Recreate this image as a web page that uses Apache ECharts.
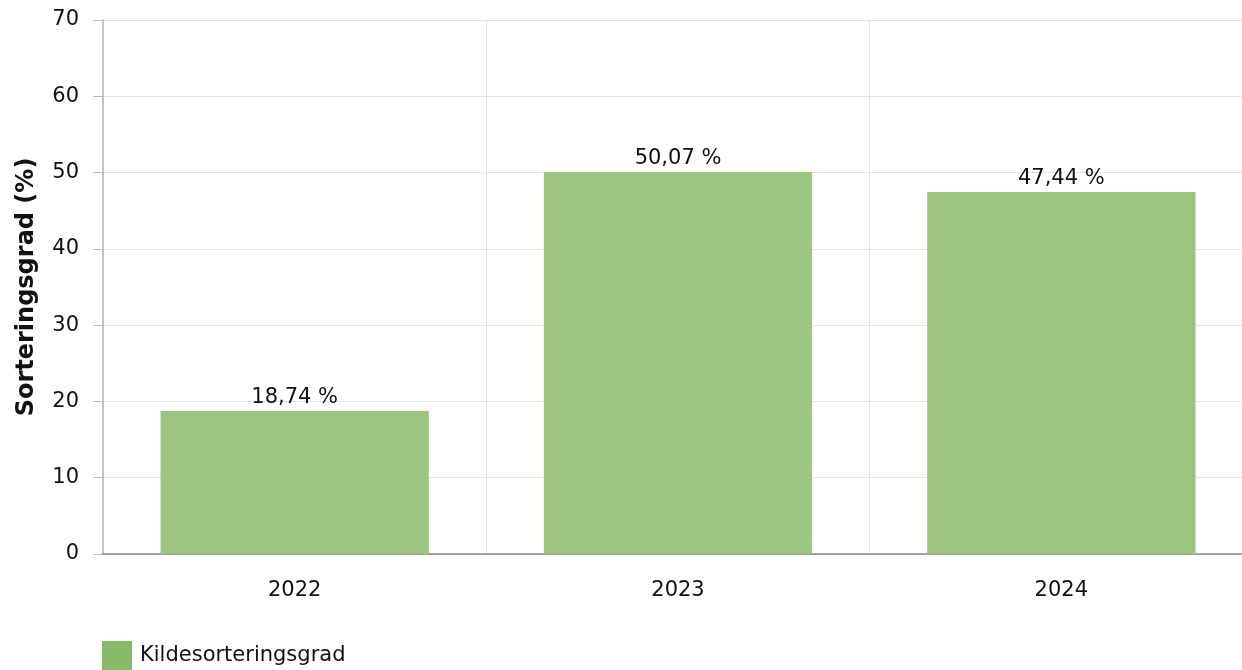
<!DOCTYPE html>
<html><head><meta charset="utf-8">
<script src="https://cdn.jsdelivr.net/npm/echarts@6/dist/echarts.min.js"></script>
<style>html,body{margin:0;padding:0;background:#fff}#c{width:1242px;height:670px}</style>
</head><body><div id="c"></div>
<script>
const categories = ['2022', '2023', '2024'];
const values = [18.74, 50.07, 47.44];
const seriesName = 'Kildesorteringsgrad';
const yAxisName = 'Sorteringsgrad (%)';

const chart = echarts.init(document.getElementById('c'));
const font = 'DejaVu Sans, Verdana, sans-serif';
chart.setOption({
  animation: false,
  textStyle: { fontFamily: font },
  grid: { left: 103, width: 1150, top: 20, height: 534, containLabel: false, outerBoundsMode: 'none' },
  legend: {
    left: 97, top: 636, itemWidth: 30, itemHeight: 30, itemGap: 10,
    icon: 'rect',
    textStyle: { fontSize: 21, color: '#111', fontFamily: font, padding: [8, 0, 0, 3] },
    data: [{ name: seriesName, itemStyle: { color: '#88b968' } }]
  },
  xAxis: {
    type: 'category', data: categories,
    axisLine: { lineStyle: { color: '#888', width: 1.5 } },
    axisTick: { alignWithLabel: true, length: 10, lineStyle: { color: '#999' } },
    axisLabel: { fontSize: 21, color: '#111', margin: 26, fontFamily: font },
    splitLine: { show: true, lineStyle: { color: '#e2e2e2', width: 1 } }
  },
  yAxis: {
    type: 'value', min: 0, max: 70, interval: 10,
    name: yAxisName, nameLocation: 'middle', nameGap: 64,
    nameTextStyle: { fontSize: 24, fontWeight: 'bold', color: '#111', fontFamily: font },
    axisLine: { show: true, lineStyle: { color: '#c4c4c4', width: 2 } },
    axisTick: { show: true, length: 10, lineStyle: { color: '#bbb' } },
    axisLabel: { fontSize: 21, color: '#111', margin: 24, fontFamily: font },
    splitLine: { lineStyle: { color: '#e2e2e2', width: 1 } }
  },
  series: [{
    name: seriesName, type: 'bar', data: values, barWidth: '70%',
    itemStyle: { color: '#9cc580' },
    label: {
      show: true, position: 'top', distance: 3, fontSize: 21, color: '#111', fontFamily: font,
      formatter: p => p.value.toFixed(2).replace('.', ',') + ' %'
    }
  }]
});
</script></body></html>
